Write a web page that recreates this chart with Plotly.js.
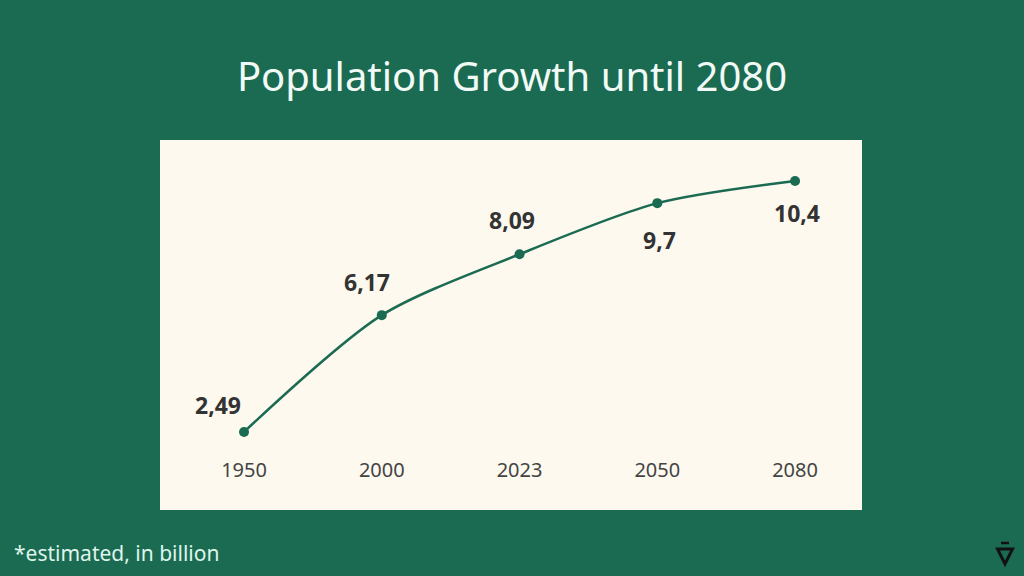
<!DOCTYPE html>
<html><head><meta charset="utf-8">
<script src="https://cdn.plot.ly/plotly-3.0.1.min.js"></script>
<style>html,body{margin:0;padding:0;background:#1b6b53;}#chart{width:1024px;height:576px;}</style>
</head><body><div id="chart"></div>
<script>
const years = ['1950', '2000', '2023', '2050', '2080'];
const population = [2.49, 6.17, 8.09, 9.7, 10.4];
const labelDy = [27, 33, 34, -37, -32];
const labelDx = [-26, -15, -8, 2, 2];

const GREEN = '#1b6b53';
const CREAM = '#fdf9ef';

const trace = {
  x: years, y: population, type: 'scatter', mode: 'lines+markers',
  line: {color: GREEN, width: 2.5, shape: 'spline', smoothing: 0.8},
  marker: {color: GREEN, size: 10},
  hoverinfo: 'skip', cliponaxis: false
};

const annotations = years.map((yr, i) => ({
  x: i, y: population[i], xref: 'x', yref: 'y',
  text: '<b>' + String(population[i]).replace('.', ',') + '</b>',
  showarrow: false, xshift: labelDx[i], yshift: labelDy[i],
  font: {family: 'Noto Sans, Open Sans, sans-serif', size: 23, color: '#333333'}
}));
annotations.push({
  text: '*estimated, in billion', xref: 'paper', yref: 'paper',
  x: (12 - 160) / 702, y: (510 - 553) / 370, xanchor: 'left', yanchor: 'middle',
  showarrow: false, font: {family: 'Noto Sans, Open Sans, sans-serif', size: 21, color: '#dff5ea'}
});

const px = v => (v - 160) / 702, py = v => (510 - v) / 370;
const shapes = [
  {type: 'path', xref: 'paper', yref: 'paper',
   path: `M ${px(997.5)} ${py(549)} L ${px(1012.5)} ${py(549)} L ${px(1005)} ${py(564)} Z`,
   line: {color: '#111', width: 3}, fillcolor: 'rgba(0,0,0,0)'},
  {type: 'line', xref: 'paper', yref: 'paper', x0: px(1001), x1: px(1009), y0: py(543), y1: py(543),
   line: {color: '#111', width: 2.5}}
];

const layout = {
  width: 1024, height: 576,
  paper_bgcolor: GREEN, plot_bgcolor: CREAM,
  margin: {l: 160, r: 162, t: 140, b: 66},
  showlegend: false,
  title: {text: 'Population Growth until 2080', x: 0.5, xanchor: 'center', y: 1 - 77 / 576, yanchor: 'middle', yref: 'container',
    font: {family: 'Noto Sans, Open Sans, sans-serif', size: 40, color: '#f2faf5'}},
  xaxis: {type: 'category', range: [-0.61, 4.486], showgrid: false, zeroline: false, showline: false,
    ticks: '', anchor: 'free', position: 0.145, fixedrange: true,
    tickfont: {family: 'Noto Sans, Open Sans, sans-serif', size: 20, color: '#444444'}},
  yaxis: {range: [0.03, 11.69], visible: false, showgrid: false, zeroline: false, fixedrange: true},
  annotations: annotations, shapes: shapes
};

Plotly.newPlot('chart', [trace], layout, {displayModeBar: false, staticPlot: true});
</script>
</body></html>
